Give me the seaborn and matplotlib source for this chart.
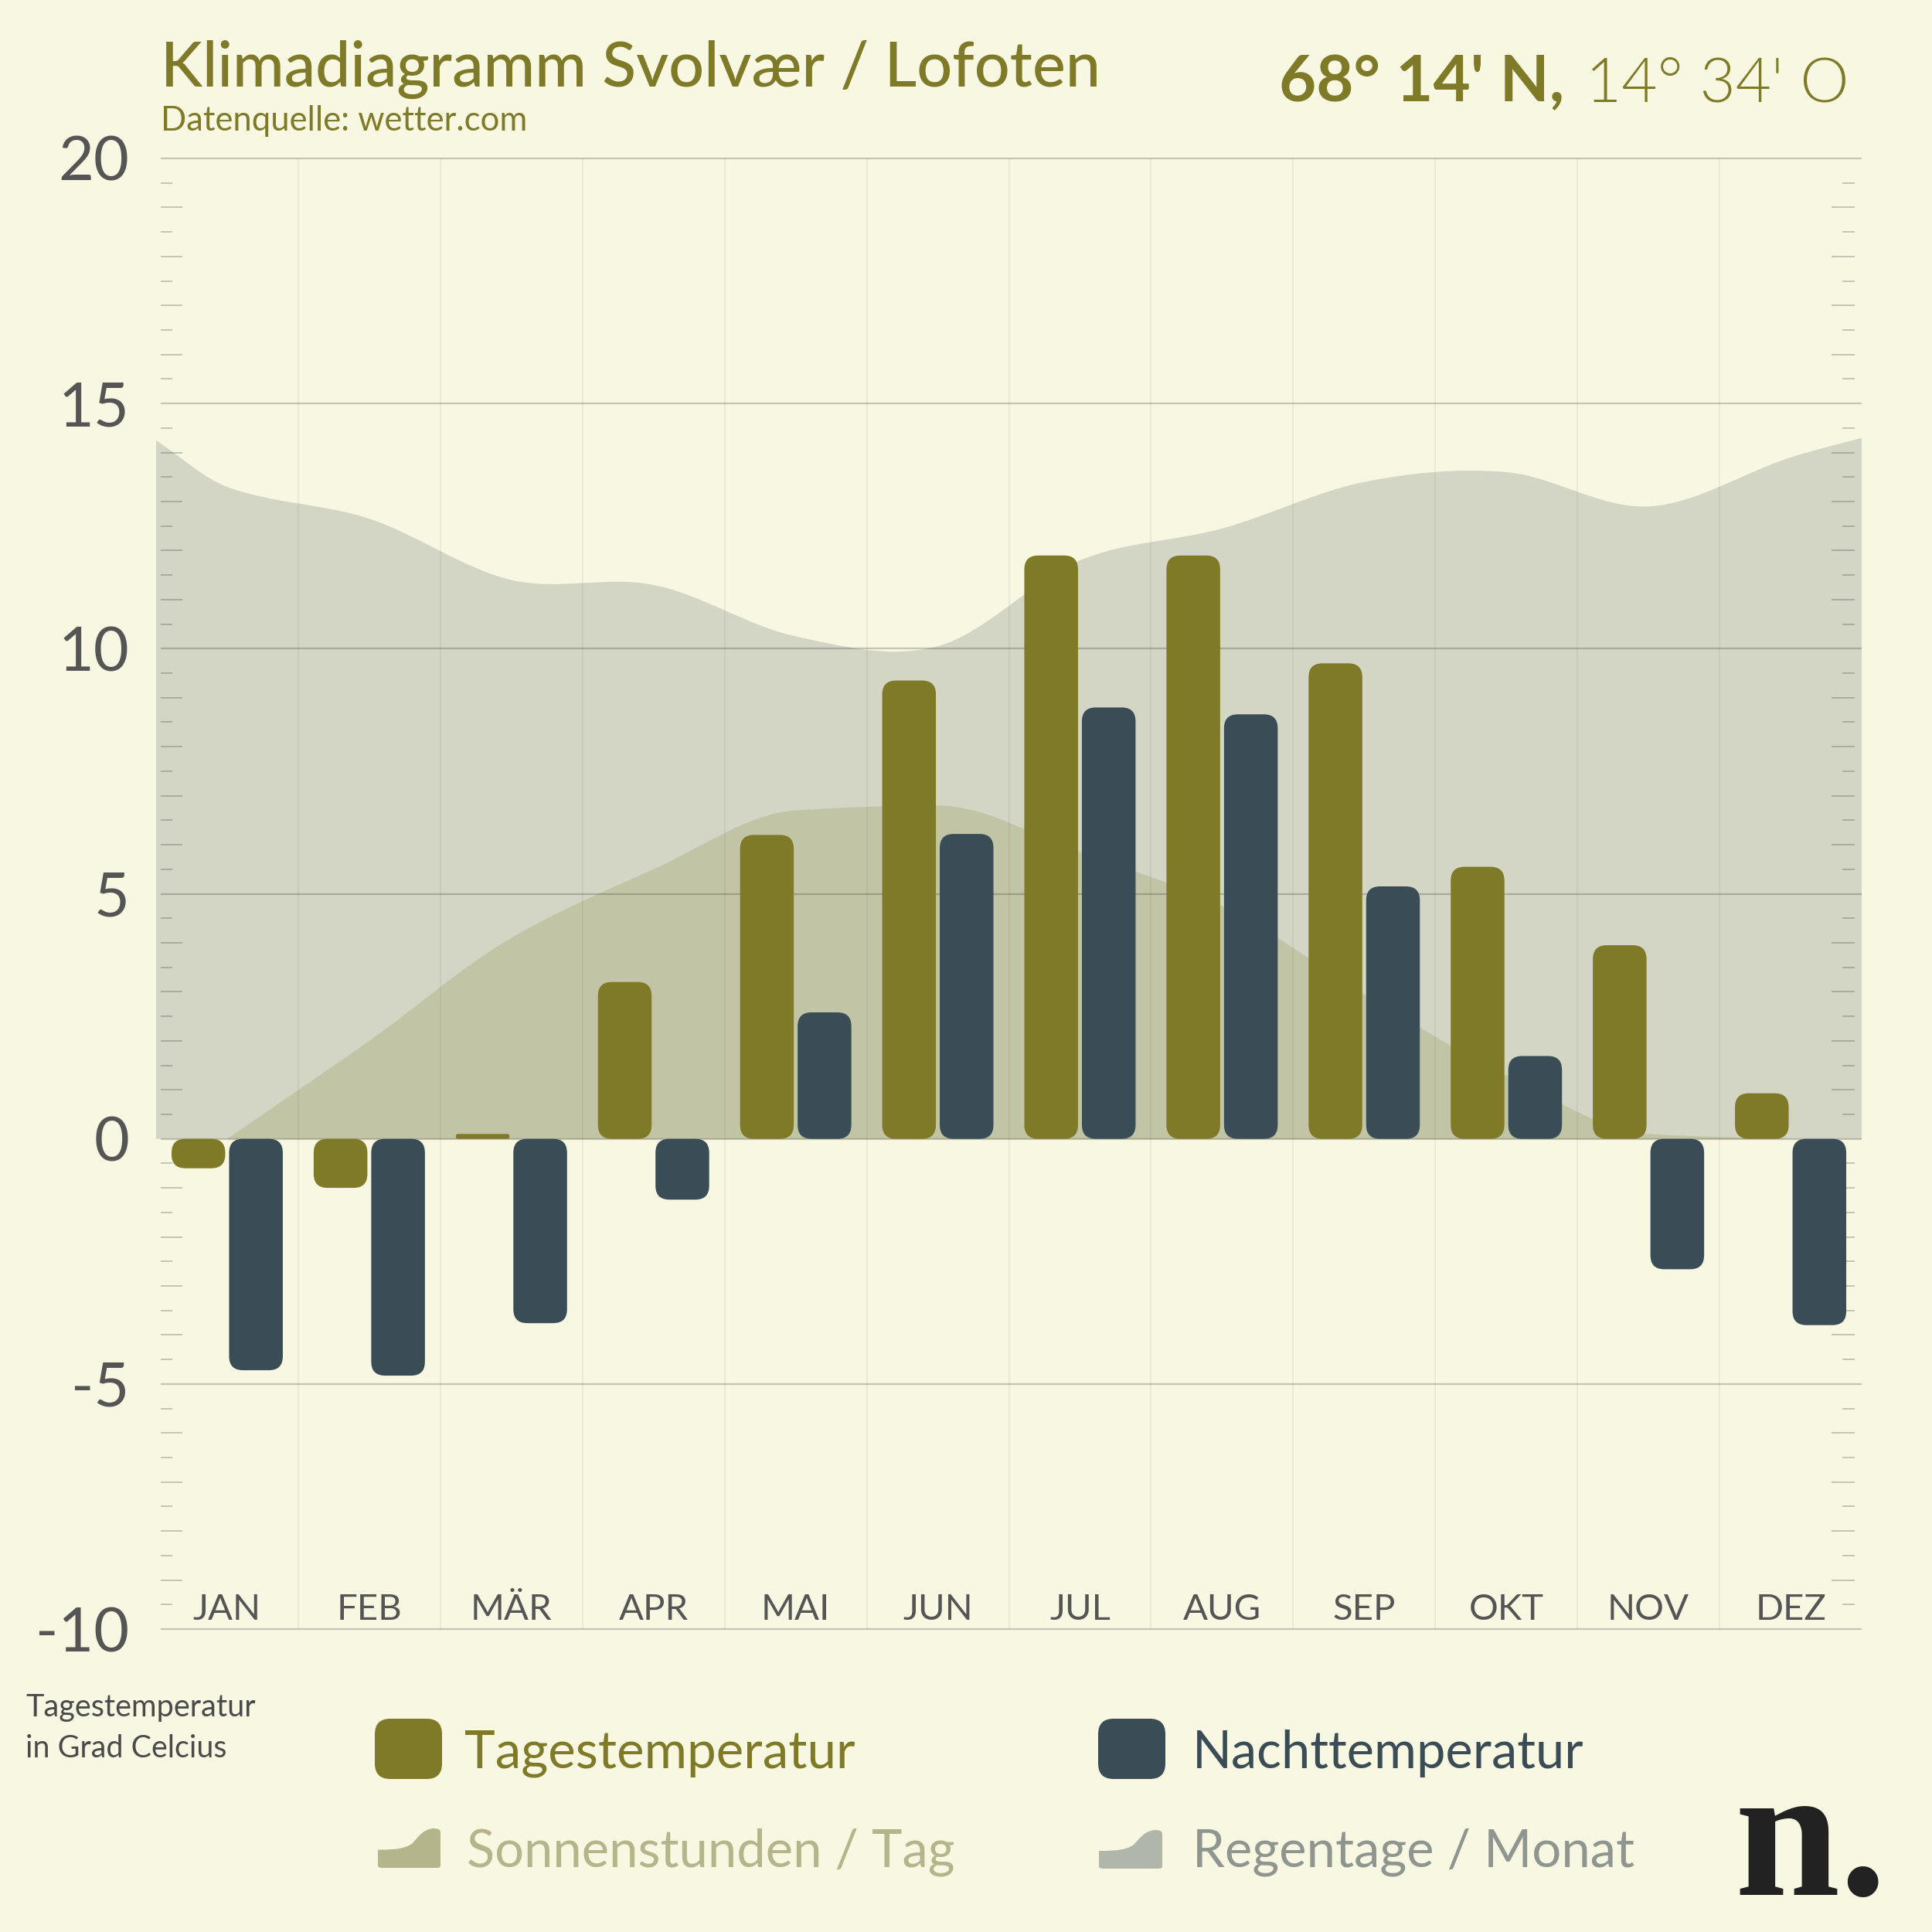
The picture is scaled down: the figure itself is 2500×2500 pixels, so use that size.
import numpy as np
import pandas as pd
import matplotlib
matplotlib.use("Agg")
import matplotlib.pyplot as plt
import seaborn as sns
from matplotlib.patches import FancyBboxPatch, PathPatch
from matplotlib.path import Path

# ---------------- data ----------------
months = ["JAN", "FEB", "MÄR", "APR", "MAI", "JUN", "JUL", "AUG", "SEP", "OKT", "NOV", "DEZ"]
tagestemperatur = [-0.6, -1.0, 0.1, 3.2, 6.2, 9.35, 11.9, 11.9, 9.7, 5.55, 3.95, 0.93]
nachttemperatur = [-4.72, -4.83, -3.76, -1.24, 2.58, 6.22, 8.8, 8.66, 5.15, 1.69, -2.66, -3.8]
sonnenstunden = [0.0, 2.0, 4.1, 5.5, 6.7, 6.8, 5.85, 4.75, 2.95, 1.3, 0.1, 0.0]
regentage = [13.3, 12.65, 11.4, 11.3, 10.25, 10.05, 11.8, 12.45, 13.4, 13.6, 12.9, 13.9]
regentage_rand = [14.25, 14.3]          # curve value at left / right edge of the plot
y_ticks = [-10, -5, 0, 5, 10, 15, 20]
y_ticklabels = ["-10", "-5", "0", "5", "10", "15", "20"]

# ---------------- style ----------------
BG = "#f7f7e2"
C_DAY = "#7f7a27"
C_NIGHT = "#3a4c55"
C_RAIN = "#d3d6c5"
C_SUN = "#c2c5a5"
C_GRAY = "#555555"
GRID = (0, 0, 0, 0.2)

sns.set_style("white")
plt.rcParams["font.family"] = ["Lato", "DejaVu Sans"]

W = H = 2500
fig = plt.figure(figsize=(25, 25), dpi=100, facecolor=BG)


def fx(px):
    return px / W


def fy(py):
    return 1 - py / H


AX_L, AX_R, AX_T, AX_B = 202, 2409, 205, 2108
ax = fig.add_axes([fx(AX_L), fy(AX_B), (AX_R - AX_L) / W, (AX_B - AX_T) / H])
ax.set_facecolor("none")
for s in ax.spines.values():
    s.set_visible(False)

# ---------------- bars via seaborn ----------------
df = pd.DataFrame({
    "Monat": months * 2,
    "Temperatur": tagestemperatur + nachttemperatur,
    "Serie": ["Tagestemperatur"] * 12 + ["Nachttemperatur"] * 12,
})
sns.barplot(data=df, x="Monat", y="Temperatur", hue="Serie", order=months,
            hue_order=["Tagestemperatur", "Nachttemperatur"],
            palette=[C_DAY, C_NIGHT], width=0.81, gap=0.067, saturation=1,
            errorbar=None, legend=False, ax=ax, zorder=3)

ax.set_xlim(-0.5, 11.5)
ax.set_ylim(-10, 20)

px_per_x = (AX_R - AX_L) / 12.0
px_per_y = (AX_B - AX_T) / 30.0
aspect = px_per_x / px_per_y
R_PX = 18.0

bars = list(ax.patches)
for p in bars:
    x0, y0, w, h = p.get_x(), p.get_y(), p.get_width(), p.get_height()
    fc = p.get_facecolor()
    p.remove()
    if h < 0:
        y0, h = y0 + h, -h
    r_px = min(R_PX, h * px_per_y / 2, w * px_per_x / 2)
    fb = FancyBboxPatch((x0, y0), w, h,
                        boxstyle=f"round,pad=0,rounding_size={r_px / px_per_x}",
                        mutation_aspect=aspect, facecolor=fc, edgecolor="none",
                        zorder=3)
    ax.add_patch(fb)


# ---------------- smooth areas ----------------
def smooth_area(xs, ys, monotone):
    xs = np.asarray(xs, float)
    ys = np.asarray(ys, float)
    n = len(xs)
    d = np.diff(ys) / np.diff(xs)
    m = np.zeros(n)
    if monotone:
        for i in range(1, n - 1):
            if d[i - 1] * d[i] > 0:
                m[i] = 2.0 / (1.0 / d[i - 1] + 1.0 / d[i])
            else:
                m[i] = 0.0
    else:
        m[1:-1] = (ys[2:] - ys[:-2]) / (xs[2:] - xs[:-2])
    m[0] = d[0]
    m[-1] = d[-1]
    verts = [(xs[0], 0.0), (xs[0], ys[0])]
    codes = [Path.MOVETO, Path.LINETO]
    for i in range(n - 1):
        hh = xs[i + 1] - xs[i]
        verts += [(xs[i] + hh / 3, ys[i] + m[i] * hh / 3),
                  (xs[i + 1] - hh / 3, ys[i + 1] - m[i + 1] * hh / 3),
                  (xs[i + 1], ys[i + 1])]
        codes += [Path.CURVE4] * 3
    verts += [(xs[-1], 0.0), (xs[0], 0.0)]
    codes += [Path.LINETO, Path.CLOSEPOLY]
    return Path(verts, codes)


month_x = list(range(12))
rain_x = [-0.5] + month_x + [11.5]
rain_y = [regentage_rand[0]] + regentage + [regentage_rand[1]]
ax.add_patch(PathPatch(smooth_area(rain_x, rain_y, False), facecolor=C_RAIN,
                       edgecolor="none", zorder=1))
ax.add_patch(PathPatch(smooth_area(month_x, sonnenstunden, True), facecolor=C_SUN,
                       edgecolor="none", zorder=1.1))

# ---------------- grid, separators, minor ticks ----------------
x_left = -0.5 + (208 - AX_L) / px_per_x
ax.hlines(y_ticks, x_left, 11.5, colors=[GRID], lw=1.6, zorder=2, clip_on=False)
ax.vlines([i + 0.5 for i in range(11)], -10, 20, colors=[(0, 0, 0, 0.05)], lw=1.6, zorder=2)

minor = [v / 2 for v in range(-20, 41) if v % 10 != 0]
long_m = [v for v in minor if float(v).is_integer()]
short_m = [v for v in minor if not float(v).is_integer()]
xr_end = -0.5 + (2400 - AX_L) / px_per_x
ax.hlines(long_m, x_left, x_left + 28 / px_per_x, colors=[GRID], lw=1.4, zorder=2)
ax.hlines(short_m, x_left, x_left + 15 / px_per_x, colors=[GRID], lw=1.4, zorder=2)
ax.hlines(long_m, xr_end - 30 / px_per_x, xr_end, colors=[GRID], lw=1.4, zorder=2)
ax.hlines(short_m, xr_end - 16 / px_per_x, xr_end, colors=[GRID], lw=1.4, zorder=2)

# ---------------- ticks ----------------
ax.set_xlabel("")
ax.set_ylabel("")
ax.set_yticks(y_ticks)
ax.set_yticklabels(y_ticklabels)
ax.set_xticks(month_x)
ax.set_xticklabels(months)
ax.tick_params(axis="y", length=0, pad=25, labelsize=57, labelcolor=C_GRAY)
ax.tick_params(axis="x", length=0, pad=-33, labelsize=34, labelcolor=C_GRAY)

# ---------------- texts ----------------
renderer = fig.canvas.get_renderer()


def fit_text(x_px, y_px, s, width_px, ha="left", va="baseline", **kw):
    t = fig.text(fx(x_px), fy(y_px), s, ha=ha, va=va, fontsize=50, **kw)
    bb = t.get_window_extent(renderer=renderer)
    t.set_fontsize(50 * width_px / bb.width)
    return t


fit_text(208, 112, "Klimadiagramm Svolvær / Lofoten", 1215, color=C_DAY, fontweight="medium")
fit_text(208, 169, "Datenquelle: wetter.com", 474, color=C_DAY)
fit_text(1655, 131, "68° 14' N,", 369, color=C_DAY, fontweight="bold")
fit_text(2393, 131, "14° 34' O", 341, ha="right", color=C_DAY, fontweight=300)

fit_text(33, 2221, "Tagestemperatur", 297, color="#4a4a4a")
fit_text(33, 2274, "in Grad Celcius", 261, color="#4a4a4a")

fit_text(601, 2288, "Tagestemperatur", 506, color=C_DAY)
fit_text(1543, 2288, "Nachttemperatur", 507, color=C_NIGHT)
fit_text(604, 2415, "Sonnenstunden / Tag", 631, color="#b5b58b")
fit_text(1543, 2415, "Regentage / Monat", 572, color="#8f9690")

fig.text(fx(2442), fy(2452), "n.", ha="right", va="baseline", fontsize=176,
         family=["Liberation Serif", "DejaVu Serif"], fontweight="bold", color="#222222")

# legend icons
for (x0, x1), col in [((485, 572), C_DAY), ((1421, 1508), C_NIGHT)]:
    fig.patches.append(FancyBboxPatch((fx(x0), fy(2302)), (x1 - x0) / W, (2302 - 2224) / H,
                                      boxstyle=f"round,pad=0,rounding_size={20 / W}",
                                      transform=fig.transFigure, facecolor=col,
                                      edgecolor="none"))


def area_icon(x0, x1, ytop, ybot, col):
    w = x1 - x0
    hgt = ybot - ytop

    def P(rx, ry):
        return (fx(x0 + rx * w), fy(ybot - ry * hgt))
    verts = [P(0.06, 0), P(0, 0), P(0, 0.06), P(0, 0.46), P(0.05, 0.46),
             P(0.3, 0.46), P(0.45, 0.5), P(0.55, 0.62),
             P(0.65, 0.8), P(0.72, 0.97), P(0.88, 1.0),
             P(0.96, 1.0), P(1.0, 0.97), P(1.0, 0.9),
             P(1.0, 0.06), P(1.0, 0), P(0.94, 0), P(0.06, 0)]
    codes = [Path.MOVETO, Path.CURVE3, Path.CURVE3, Path.LINETO, Path.LINETO,
             Path.CURVE4, Path.CURVE4, Path.CURVE4,
             Path.CURVE4, Path.CURVE4, Path.CURVE4,
             Path.CURVE4, Path.CURVE4, Path.CURVE4,
             Path.LINETO, Path.CURVE3, Path.CURVE3, Path.CLOSEPOLY]
    fig.patches.append(PathPatch(Path(verts, codes), transform=fig.transFigure,
                                 facecolor=col, edgecolor="none"))


area_icon(489, 570, 2366, 2417, "#b5b58b")
area_icon(1422, 1504, 2368, 2418, "#b1b6aa")

fig.savefig("out.png", dpi=100, facecolor=BG)
